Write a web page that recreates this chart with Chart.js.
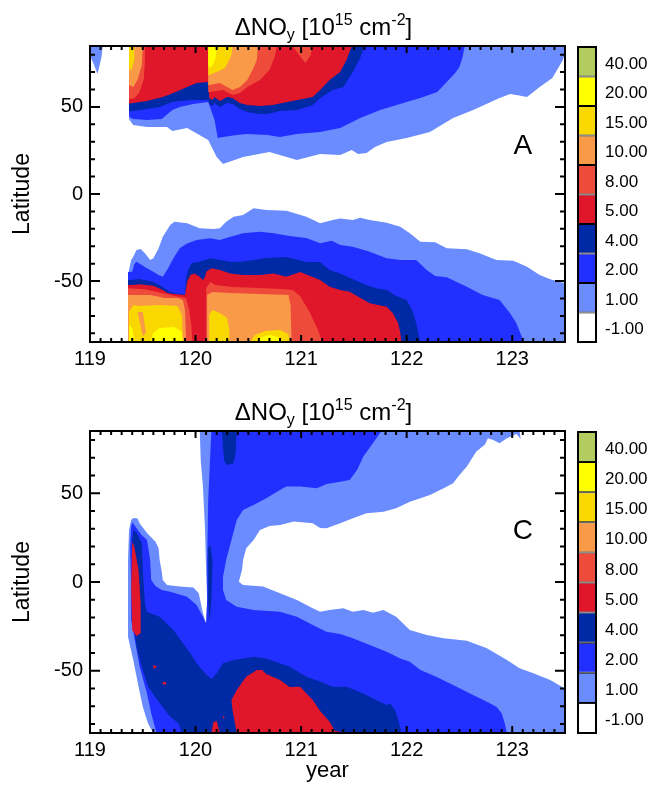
<!DOCTYPE html>
<html>
<head>
<meta charset="utf-8">
<script src="https://cdn.jsdelivr.net/npm/chart.js@4.4.0/dist/chart.umd.min.js"></script>
<style>
  html, body { margin: 0; padding: 0; background: #fff; }
  #wrap { position: relative; width: 653px; height: 796px; overflow: hidden; }
  canvas { position: absolute; }
</style>
</head>
<body>
<div id="wrap">
  <canvas id="mapA" width="570" height="380" style="left:0px;top:0px"></canvas>
  <canvas id="barA" width="83" height="380" style="left:570px;top:0px"></canvas>
  <canvas id="mapC" width="570" height="411" style="left:0px;top:385px"></canvas>
  <canvas id="barC" width="83" height="411" style="left:570px;top:385px"></canvas>
</div>
<script>
// AXES
const xRange = [119, 123.5];
const yRange = [-85, 85];
const xTicks = [119, 120, 121, 122, 123];
const yTicks = [-50, 0, 50];

// CONTOUR LEVELS (colour bar, bottom to top)
const levels = [-1, 1, 2, 4, 5, 8, 10, 15, 20, 40];
const levelLabels = ['-1.00', '1.00', '2.00', '4.00', '5.00', '8.00', '10.00', '15.00', '20.00', '40.00'];

// PANEL A contours: [year, latitude] boundary of the area above each level
const aLbBlob = [[119.00,85],[119.12,85],[119.11,79],[119.08,71],[119.07,69],[119.04,74],[119.01,78],[119.00,80]];
const aLbN = [[119.37,85],[123.5,85],[123.5,81],[123.48,77],[123.38,66.6],[123.26,61.5],[123.14,55.7],[123.04,56.9],[122.98,57.4],[122.88,55.1],[122.63,48.3],[122.44,43.7],[122.22,35.6],[122.00,32.2],[121.81,29.9],[121.70,27],[121.62,23.5],[121.54,23],[121.48,25.3],[121.37,22.4],[121.18,23],[120.96,19.5],[120.70,24.1],[120.45,21.3],[120.26,17.2],[120.20,21.3],[120.12,31],[120.07,32.7],[119.92,37.9],[119.78,36.2],[119.73,38.5],[119.54,38.5],[119.41,39.6],[119.38,42],[119.37,43]];
const aBN = [[119.37,85],[122.55,85],[122.53,78.7],[122.50,73],[122.46,69.5],[122.38,64.3],[122.29,58.6],[122.13,55.1],[122.00,52.8],[121.75,48.3],[121.56,43.7],[121.37,37.9],[121.18,35.6],[120.96,34.5],[120.80,32.7],[120.68,33.9],[120.49,34.5],[120.39,33.9],[120.26,32.7],[120.21,32.2],[120.18,42.5],[120.12,52.8],[119.98,51.7],[119.85,50],[119.78,48.3],[119.68,43.1],[119.54,42.5],[119.41,43.1],[119.38,44],[119.37,44.5]];
const aDbN = [[119.37,85],[121.60,85],[121.56,78.1],[121.49,70.1],[121.40,61.5],[121.30,59.7],[121.18,55.1],[121.11,51.1],[120.96,48.3],[120.80,47.7],[120.68,46],[120.61,46],[120.54,46.5],[120.49,47.1],[120.42,48.8],[120.35,51.7],[120.30,52.3],[120.23,50],[120.18,52.3],[120.16,50.5],[120.13,51.7],[120.12,54],[119.98,54],[119.85,53.4],[119.78,52.8],[119.66,50],[119.54,48.8],[119.41,47.7],[119.37,47.5]];
const aRN = [[119.37,85],[121.48,85],[121.43,77],[121.37,70.1],[121.27,65.5],[121.18,59.7],[121.11,55.7],[120.87,52.8],[120.73,51.1],[120.61,50.5],[120.49,51.1],[120.42,52.3],[120.35,55.1],[120.30,55.7],[120.23,53.4],[120.18,55.7],[120.16,54],[120.13,55.1],[120.12,64.3],[120.01,63.8],[119.92,61.5],[119.79,58],[119.69,55.7],[119.54,53.4],[119.41,52.3],[119.37,52]];
const aRoN1 = [[119.37,85],[119.52,85],[119.52,77],[119.51,66],[119.47,58.6],[119.42,55],[119.37,54.6]];
const aRoN2 = [[120.12,85],[120.77,85],[120.75,78.7],[120.70,71.2],[120.61,65.5],[120.49,61.5],[120.42,58],[120.35,56.9],[120.26,59.7],[120.13,58.6],[120.12,58.6]];
const aRoN3 = [[120.92,85],[121.11,85],[121.09,79.8],[121.04,75.2],[120.98,79.8]];
const aON1 = [[119.37,85],[119.50,85],[119.49,74],[119.45,65.5],[119.41,61.5],[119.37,62.6]];
const aON2 = [[120.12,85],[120.59,85],[120.58,77],[120.54,71.2],[120.49,65.5],[120.42,61.5],[120.35,59.7],[120.23,63.8],[120.13,62.6],[120.12,62.6]];
const aGN1 = [[119.37,85],[119.42,85],[119.42,77],[119.39,71],[119.37,72]];
const aGN2 = [[120.12,85],[120.35,85],[120.34,79.8],[120.28,72.4],[120.20,70.1],[120.13,68.4],[120.12,68.4]];
const aYN2 = [[120.12,85],[120.20,85],[120.19,78.1],[120.16,73.5],[120.13,72.4],[120.12,74.1]];

const aLbS = [[119.36,-85],[119.36,-46.5],[119.38,-40.8],[119.39,-37.9],[119.41,-36],[119.44,-32.2],[119.48,-31.6],[119.52,-34.1],[119.57,-37.9],[119.60,-36.9],[119.65,-31.2],[119.69,-24.5],[119.76,-17.8],[119.80,-15.9],[119.92,-16.8],[120.04,-19.7],[120.17,-20.1],[120.23,-19.7],[120.29,-15.9],[120.36,-13.1],[120.45,-12.1],[120.55,-8.2],[120.67,-9.2],[120.86,-9.6],[121.05,-13.1],[121.18,-16.8],[121.30,-14.9],[121.37,-14],[121.49,-14.9],[121.56,-13.6],[121.65,-14.9],[121.81,-16.5],[121.94,-18.8],[122.03,-22.6],[122.13,-27.4],[122.27,-27.7],[122.38,-31.2],[122.57,-31.8],[122.69,-34.1],[122.85,-37.9],[123.01,-38.3],[123.14,-41.8],[123.26,-46.5],[123.36,-49],[123.5,-51.3],[123.5,-85]];
const aBS = [[119.36,-85],[119.36,-44.8],[119.40,-44.6],[119.42,-40.2],[119.44,-38.9],[119.49,-40.8],[119.54,-42.7],[119.60,-44.6],[119.65,-46.5],[119.69,-47.5],[119.74,-42.7],[119.79,-36.9],[119.85,-31.2],[119.92,-28.4],[120.01,-26.4],[120.14,-25.4],[120.23,-26.4],[120.33,-24.5],[120.45,-22.6],[120.61,-21.7],[120.74,-22.6],[120.89,-24.1],[121.05,-25.3],[121.18,-28.3],[121.29,-26.8],[121.37,-29.3],[121.49,-30.3],[121.65,-33.1],[121.81,-36.9],[121.94,-37.9],[122.09,-37.9],[122.19,-43.7],[122.27,-47.1],[122.38,-47.8],[122.57,-53.2],[122.72,-58],[122.88,-60.9],[122.98,-68.5],[123.04,-74.3],[123.11,-85]];
const aDbS = [[119.36,-85],[119.36,-49.4],[119.39,-49.4],[119.47,-48.8],[119.60,-50.5],[119.69,-53.4],[119.76,-56.3],[119.85,-57.4],[119.90,-57.4],[119.91,-48.2],[119.93,-43.7],[119.96,-39.8],[120.04,-38.9],[120.14,-36.9],[120.23,-37.9],[120.33,-38.9],[120.42,-38.9],[120.55,-37.9],[120.67,-36.8],[120.86,-36.2],[121.05,-39.1],[121.18,-39.1],[121.27,-43.7],[121.37,-45.6],[121.49,-49],[121.62,-52.3],[121.71,-54.2],[121.81,-55.1],[121.90,-58.6],[122.00,-60.9],[122.06,-67.6],[122.09,-74.3],[122.13,-85]];
const aRS = [[119.36,-85],[119.36,-52.3],[119.39,-52.3],[119.47,-51.9],[119.60,-52.7],[119.69,-55.1],[119.74,-57],[119.82,-57.6],[119.90,-58],[119.92,-50.4],[119.95,-46.5],[119.99,-45.6],[120.04,-47.5],[120.07,-49.4],[120.09,-47.5],[120.10,-44.6],[120.15,-42.7],[120.23,-43.7],[120.33,-45.6],[120.45,-46.5],[120.61,-46.5],[120.74,-45.6],[120.86,-47.5],[120.99,-44.8],[121.18,-49.4],[121.27,-53.2],[121.37,-55.1],[121.46,-56.1],[121.65,-62.8],[121.81,-64.7],[121.87,-68.5],[121.92,-74.3],[121.94,-80],[121.95,-85]];
const aRoS1 = [[119.36,-85],[119.36,-54.2],[119.52,-54.7],[119.66,-56.5],[119.80,-58.6],[119.91,-59.7],[119.94,-66.6],[119.96,-75.2],[119.97,-85]];
const aRoS2 = [[120.10,-85],[120.10,-54],[120.14,-50.5],[120.19,-52.3],[120.35,-53.4],[120.61,-54],[120.80,-54.5],[120.92,-55.1],[120.99,-58.6],[121.08,-67.8],[121.16,-78.1],[121.20,-85]];
const aOS1 = [[119.36,-85],[119.36,-58],[119.57,-58],[119.71,-59.7],[119.83,-59.7],[119.88,-60.9],[119.90,-66.6],[119.91,-85]];
const aOS2 = [[120.11,-85],[120.11,-58],[120.16,-56.3],[120.33,-56.9],[120.61,-57.4],[120.88,-58],[120.90,-63.8],[120.91,-85]];
const aGS1 = [[119.37,-85],[119.37,-67.8],[119.41,-63.8],[119.47,-64.3],[119.66,-63.8],[119.83,-64.3],[119.87,-69.5],[119.88,-85]];
const aOS1b = [[119.45,-67.8],[119.50,-67.8],[119.53,-79.8],[119.50,-81.6]];
const aGS2a = [[120.13,-85],[120.13,-69.5],[120.16,-66.6],[120.23,-68.4],[120.30,-71.2],[120.32,-78.1],[120.32,-85]];
const aGS2b = [[120.52,-85],[120.56,-81],[120.66,-78.7],[120.80,-78.1],[120.88,-80.4],[120.89,-85]];
const aYS1a = [[119.57,-85],[119.60,-79.8],[119.66,-77],[119.80,-76.4],[119.87,-79.2],[119.88,-85]];
const aYS1b = [[119.37,-85],[119.37,-75.2],[119.40,-77],[119.42,-85]];
const aYS2 = [[120.59,-85],[120.63,-82.2],[120.70,-81],[120.78,-82.2],[120.82,-85]];

// PANEL C contours
const cLb = [[120.04,85],[123.07,85],[123.08,80.5],[123.04,83.3],[123.00,82.2],[122.95,80.9],[122.88,78.1],[122.82,80],[122.77,80.9],[122.74,77.2],[122.66,73.5],[122.57,65],[122.50,60.3],[122.44,55.6],[122.35,52.8],[122.22,49],[122.13,47.1],[122.03,45.2],[121.90,41.5],[121.78,39.6],[121.62,38.7],[121.49,35.9],[121.37,33.1],[121.24,30.2],[121.18,30.4],[121.11,33.1],[120.93,34],[120.80,32.1],[120.70,31.5],[120.61,29.3],[120.55,23.6],[120.48,19],[120.45,12.4],[120.44,6.8],[120.41,0.2],[120.45,-1.7],[120.64,-2.6],[120.80,-6.4],[120.96,-10.1],[121.11,-14.8],[121.18,-16.7],[121.27,-15.8],[121.40,-14.8],[121.49,-16.7],[121.59,-15.8],[121.68,-17.3],[121.78,-15.8],[121.90,-19.5],[122.03,-27],[122.19,-29.8],[122.35,-31.7],[122.57,-33.1],[122.76,-37.3],[122.95,-43.9],[123.07,-48.6],[123.20,-51.4],[123.36,-55.2],[123.47,-59],[123.5,-59.9],[123.5,-85],[119.60,-85],[119.55,-79.6],[119.50,-70.2],[119.46,-59],[119.41,-43.9],[119.36,-30.8],[119.36,12.4],[119.37,29.3],[119.39,34.9],[119.41,36],[119.45,35.8],[119.47,33.1],[119.54,27.6],[119.62,22.7],[119.65,19],[119.66,12.4],[119.68,5.6],[119.69,1.1],[119.73,-1.7],[119.85,-2.6],[119.98,-3.1],[120.03,-6.4],[120.07,-17.6],[120.10,-23.3],[120.11,-10.1],[120.10,6.8],[120.09,29.3],[120.07,53.7],[120.05,67.6]];
const cB = [[120.15,85],[121.76,85],[121.68,78.1],[121.59,70.6],[121.53,63.1],[121.46,57.4],[121.37,56.5],[121.24,55.2],[121.15,52.8],[120.99,53.7],[120.86,53.7],[120.80,51.8],[120.67,47.1],[120.55,43.4],[120.45,40.5],[120.39,34.9],[120.34,23.6],[120.29,12.4],[120.26,3],[120.26,-4.5],[120.29,-10.1],[120.39,-13.9],[120.55,-15.8],[120.80,-16.7],[120.96,-19.5],[121.11,-24.2],[121.24,-28],[121.37,-29.3],[121.49,-31.7],[121.65,-35.5],[121.81,-39.2],[121.94,-43],[122.03,-44.9],[122.13,-49.6],[122.28,-53.3],[122.44,-58],[122.60,-62.7],[122.76,-67.4],[122.85,-70.2],[122.90,-73.9],[122.93,-79.6],[122.95,-85],[119.63,-85],[119.58,-73.9],[119.54,-62.7],[119.47,-47.7],[119.43,-34.5],[119.39,-21.4],[119.39,-2.6],[119.38,19.9],[119.39,31.1],[119.40,33.8],[119.44,30.4],[119.49,26.5],[119.54,23.6],[119.55,19.9],[119.57,12.4],[119.58,1.1],[119.62,-2.3],[119.68,-4.5],[119.76,-5.5],[119.92,-8.3],[120.01,-13],[120.07,-19.5],[120.10,-23.3],[120.11,-10.1],[120.11,12.4],[120.12,46.2],[120.14,72.6]];
const cDbTop = [[120.25,85],[120.39,85],[120.38,72.6],[120.36,66.9],[120.29,65.9],[120.27,68.7],[120.26,76.2]];
const cDbCol = [[120.12,19],[120.14,21],[120.16,12],[120.15,-10],[120.13,-22.5],[120.12,-10]];
const cDbMain = [[119.87,-85],[119.84,-79.6],[119.76,-75.8],[119.66,-68.3],[119.55,-59],[119.49,-47.7],[119.44,-36.4],[119.41,-21.4],[119.40,10],[119.40,24],[119.41,29],[119.44,28],[119.49,21.8],[119.50,6.8],[119.52,-12],[119.54,-16.7],[119.66,-19.5],[119.79,-27],[119.88,-34.5],[119.95,-40.1],[120.01,-45.8],[120.09,-51.4],[120.15,-54.8],[120.20,-51.4],[120.26,-45.8],[120.36,-43.9],[120.45,-43],[120.55,-42.1],[120.67,-43],[120.80,-45.8],[120.89,-47.7],[121.05,-53.3],[121.18,-56],[121.30,-59],[121.43,-59],[121.59,-62.7],[121.71,-66.4],[121.81,-69.3],[121.84,-68.3],[121.89,-72.1],[121.92,-77.7],[121.95,-85]];
const cRSpike = [[119.40,22.7],[119.42,19.9],[119.46,6.8],[119.48,-12],[119.48,-28.9],[119.44,-30.4],[119.40,-27],[119.39,-2.6]];
const cRDot1 = [[119.60,-46.7],[119.64,-47.7],[119.60,-48.9]];
const cRDot2 = [[119.69,-56.3],[119.72,-56.3],[119.72,-57.7],[119.69,-57.7]];
const cRDot3 = [[120.26,-75.5],[120.28,-76.2],[120.26,-76.9]];
const cRSmall = [[120.15,-85],[120.17,-78.8],[120.20,-78.3],[120.23,-85]];
const cRBig = [[120.39,-85],[120.35,-72.1],[120.34,-66.4],[120.39,-60.8],[120.48,-53.3],[120.58,-49.5],[120.63,-49.5],[120.67,-51.8],[120.80,-55.2],[120.89,-59.1],[120.99,-59],[121.11,-66.4],[121.18,-72.6],[121.27,-78.6],[121.32,-83.9],[121.46,-85]];

// drawing order per panel: [level, polygon]
const panelA = [
  [1, aLbBlob], [1, aLbN], [1, aLbS],
  [2, aBN], [2, aBS],
  [4, aDbN], [4, aDbS],
  [5, aRN], [5, aRS],
  [8, aRoN1], [8, aRoN2], [8, aRoN3], [8, aRoS1], [8, aRoS2],
  [10, aON1], [10, aON2], [10, aOS1], [10, aOS2],
  [15, aGN1], [15, aGN2], [15, aGS1], [15, aGS2a], [15, aGS2b],
  [10, aOS1b],
  [20, aYN2], [20, aYS1a], [20, aYS1b], [20, aYS2]
];
const panelC = [
  [1, cLb],
  [2, cB],
  [4, cDbTop], [4, cDbCol], [4, cDbMain],
  [5, cRSpike], [5, cRDot1], [5, cRDot2], [5, cRDot3], [5, cRSmall], [5, cRBig]
];

// STYLE
const FONT = "'Liberation Sans', Arial, Helvetica, sans-serif";
const levelColors = {
  '-1': '#ffffff', 1: '#6a8cff', 2: '#2230ff', 4: '#0029a6', 5: '#e0162b',
  8: '#ef4b3a', 10: '#f99a48', 15: '#f8d800', 20: '#ffff00', 40: '#b3cc5f'
};
Chart.defaults.font.family = FONT;
Chart.defaults.color = '#000';

function layerSets(layers) {
  const n = layers.length;
  return layers.map(([lvl, poly], i) => ({
    data: poly.map(([x, y]) => ({ x, y })),
    backgroundColor: levelColors[lvl],
    borderWidth: 0,
    pointRadius: 0,
    tension: 0,
    fill: 'shape',
    order: n - i
  }));
}

// frame with inward major/minor ticks on all four sides
const framePlugin = {
  id: 'frame',
  afterDatasetsDraw(chart) {
    const { ctx, chartArea: a, scales: { x, y } } = chart;
    ctx.save();
    ctx.strokeStyle = '#000';
    ctx.lineWidth = 2;
    ctx.beginPath();
    for (let i = 0; i <= 45; i++) {
      const px = x.getPixelForValue(xRange[0] + i / 10);
      const len = i % 10 === 0 ? 7 : 4;
      ctx.moveTo(px, a.bottom); ctx.lineTo(px, a.bottom - len);
      ctx.moveTo(px, a.top); ctx.lineTo(px, a.top + len);
    }
    for (let v = -80; v <= 80; v += 10) {
      const py = y.getPixelForValue(v);
      const len = v % 50 === 0 ? 10 : 5;
      ctx.moveTo(a.left, py); ctx.lineTo(a.left + len, py);
      ctx.moveTo(a.right, py); ctx.lineTo(a.right - len, py);
    }
    ctx.stroke();
    ctx.strokeRect(a.left, a.top, a.right - a.left, a.bottom - a.top);
    ctx.restore();
  }
};

// title with sub/superscripts and the panel letter
const textPlugin = {
  id: 'panelText',
  afterDraw(chart, args, opts) {
    const { ctx, chartArea: a, scales: { x, y } } = chart;
    const parts = [['\u0394NO', 24, 0], ['y', 16, 5], [' [10', 24, 0], ['15', 16, -10], [' cm', 24, 0], ['-2', 16, -10], [']', 24, 0]];
    ctx.save();
    ctx.fillStyle = '#000';
    ctx.textAlign = 'left';
    ctx.textBaseline = 'alphabetic';
    let w = 0;
    parts.forEach(p => { ctx.font = p[1] + 'px ' + FONT; w += ctx.measureText(p[0]).width; });
    let cx = (a.left + a.right) / 2 - 4 - w / 2;
    const base = a.top - 11;
    parts.forEach(p => {
      ctx.font = p[1] + 'px ' + FONT;
      ctx.fillText(p[0], cx, base + p[2]);
      cx += ctx.measureText(p[0]).width;
    });
    ctx.font = '28px ' + FONT;
    ctx.textAlign = 'center';
    ctx.textBaseline = 'middle';
    ctx.fillText(opts.letter, x.getPixelForValue(opts.at[0]), y.getPixelForValue(opts.at[1]));
    ctx.restore();
  }
};

const boxPlugin = {
  id: 'box',
  afterDatasetsDraw(chart) {
    const { ctx, chartArea: a } = chart;
    ctx.save();
    ctx.strokeStyle = '#000';
    ctx.lineWidth = 2;
    ctx.strokeRect(a.left, a.top, a.right - a.left, a.bottom - a.top);
    ctx.restore();
  }
};

function contourChart(id, layers, o) {
  return new Chart(document.getElementById(id), {
    type: 'line',
    data: { datasets: layerSets(layers) },
    options: {
      responsive: false,
      animation: false,
      events: [],
      layout: { padding: { top: 46, right: 5, left: 0, bottom: 0 } },
      plugins: {
        legend: { display: false },
        tooltip: { enabled: false },
        panelText: { letter: o.letter, at: o.letterAt }
      },
      scales: {
        x: {
          type: 'linear', min: xRange[0], max: xRange[1],
          grid: { display: false, drawTicks: false },
          border: { display: false },
          afterBuildTicks: s => { s.ticks = xTicks.map(v => ({ value: v })); },
          afterFit: s => { s.height = o.xHeight; },
          ticks: { padding: 5, font: { size: 20 }, maxRotation: 0, autoSkip: false },
          title: { display: !!o.xTitle, text: o.xTitle || '', font: { size: 22 }, padding: { top: 0, bottom: 12 } }
        },
        y: {
          type: 'linear', min: yRange[0], max: yRange[1],
          grid: { display: false, drawTicks: false },
          border: { display: false },
          afterBuildTicks: s => { s.ticks = yTicks.map(v => ({ value: v })); },
          afterFit: s => { s.width = 90; },
          ticks: { padding: 7, font: { size: 20 }, autoSkip: false },
          title: { display: true, text: 'Latitude', font: { size: 23 }, padding: { top: 9, bottom: 0 } }
        }
      }
    },
    plugins: [framePlugin, textPlugin]
  });
}

function colorbar(id, padTop, padBottom) {
  return new Chart(document.getElementById(id), {
    type: 'bar',
    data: {
      labels: [''],
      datasets: levels.map(lv => ({
        data: [1],
        backgroundColor: levelColors[lv],
        borderColor: '#000',
        borderWidth: 1,
        borderSkipped: false,
        barPercentage: 1,
        categoryPercentage: 1,
        inflateAmount: 0
      }))
    },
    options: {
      responsive: false,
      animation: false,
      events: [],
      layout: { padding: { left: 8, top: padTop, bottom: padBottom, right: 0 } },
      plugins: { legend: { display: false }, tooltip: { enabled: false } },
      scales: {
        x: { stacked: true, display: false },
        y: {
          stacked: true, position: 'right', min: 0, max: levels.length,
          grid: { display: false, drawTicks: false },
          border: { display: false },
          afterFit: s => { s.width = 57; },
          afterBuildTicks: s => { s.ticks = levels.map((lv, i) => ({ value: i + 0.42 })); },
          ticks: { padding: 9, font: { size: 17 }, autoSkip: false, callback: v => levelLabels[Math.floor(v)] }
        }
      }
    },
    plugins: [boxPlugin]
  });
}

contourChart('mapA', panelA, { letter: 'A', letterAt: [123.1, 27.6], xHeight: 38 });
colorbar('barA', 47, 38);
contourChart('mapC', panelC, { letter: 'C', letterAt: [123.1, 28.4], xHeight: 63, xTitle: 'year' });
colorbar('barC', 47, 63);
</script>
</body>
</html>
